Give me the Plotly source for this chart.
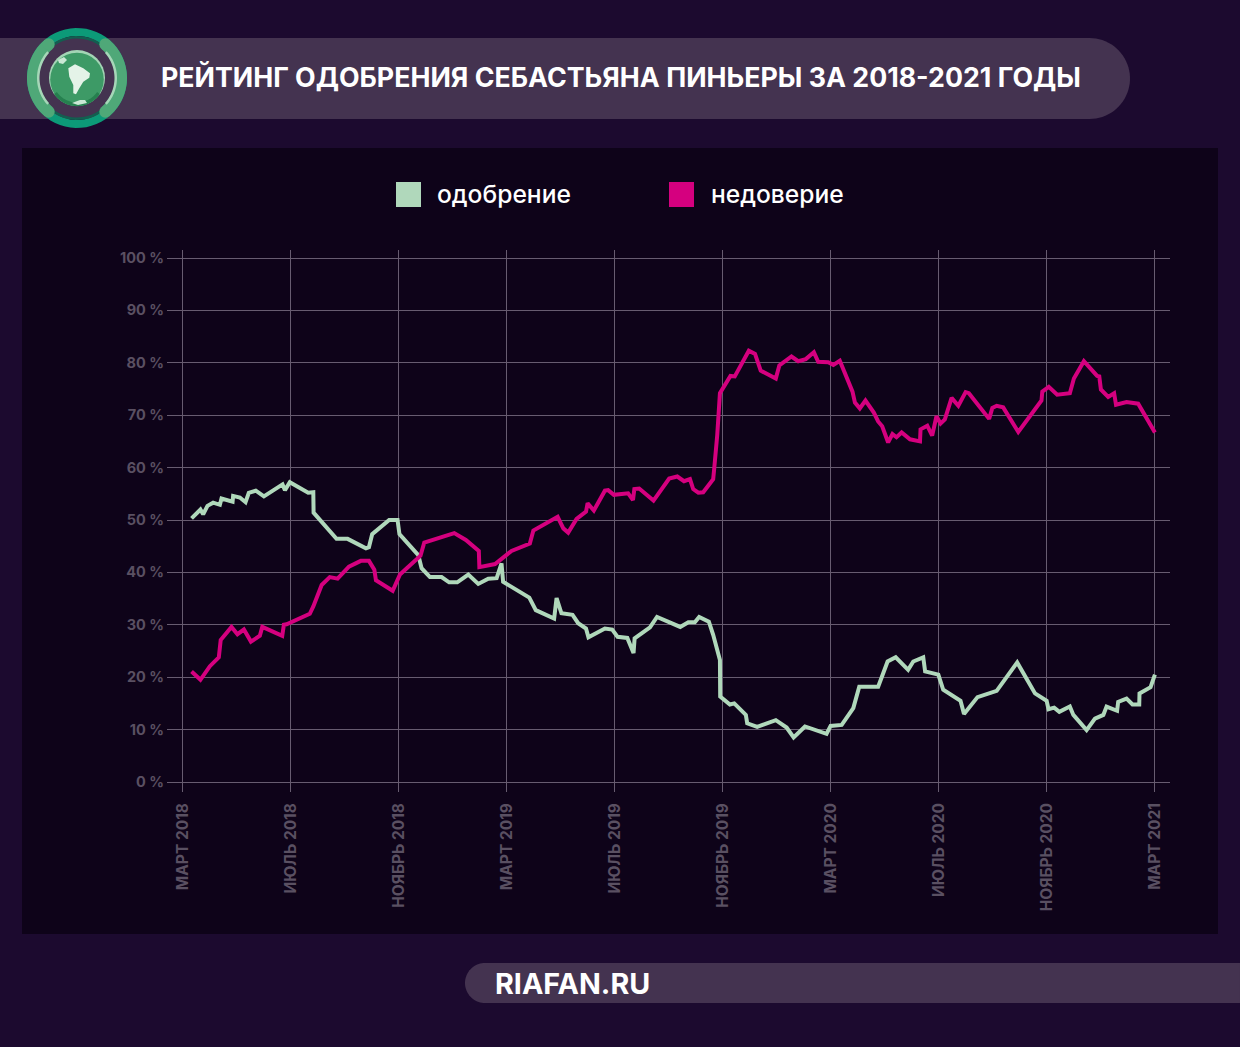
import numpy as np
import plotly.graph_objects as go

# x values are months counted from March 2018
approve_m = [0.32,0.65,0.75,0.91,1.12,1.37,1.43,1.84,1.86,2.11,2.32,2.44,2.70,3.0,3.69,3.78,3.96,4.64,4.83,4.84,5.69,6.1,6.78,6.89,7.01,7.64,7.95,8.02,8.72,8.84,9.15,9.58,9.86,10.16,10.57,10.94,11.31,11.62,11.8,11.86,12.83,13.07,13.75,13.84,14.02,14.43,14.64,14.93,15.02,15.63,15.9,16.1,16.46,16.69,16.73,17.3,17.56,18.42,18.72,18.96,19.12,19.48,19.64,19.89,19.9,20.26,20.42,20.85,20.9,21.27,21.96,22.36,22.62,23.04,23.84,23.99,24.4,24.83,25.05,25.75,26.1,26.4,26.86,27.05,27.42,27.49,27.98,28.16,28.8,28.93,29.43,30.14,30.9,31.56,31.99,32.06,32.27,32.46,32.85,32.98,33.47,33.78,34.09,34.21,34.6,34.64,34.95,35.17,35.42,35.43,35.84,36.0]
approve_v = [50.3,52.0,51.1,52.7,53.3,52.9,54.1,53.5,54.6,54.3,53.4,55.2,55.6,54.5,56.8,55.7,57.2,55.2,55.3,51.4,46.4,46.4,44.6,44.8,47.3,50.0,50.0,47.3,43.3,40.8,39.1,39.1,38.1,38.1,39.6,37.8,38.8,38.9,41.7,38.2,35.2,32.8,31.2,35.1,32.2,31.9,30.3,29.3,27.6,29.3,29.1,27.7,27.5,24.6,27.4,29.5,31.5,29.6,30.5,30.5,31.5,30.6,28.1,23.3,16.3,14.8,15.0,12.8,11.2,10.5,11.8,10.4,8.5,10.6,9.2,10.7,10.9,14.1,18.2,18.2,23.0,23.8,21.4,23.0,23.8,21.1,20.5,17.6,15.5,13.0,16.2,17.4,22.8,16.9,15.5,13.9,14.2,13.4,14.4,12.8,9.9,12.1,12.8,14.4,13.6,15.3,15.9,14.8,14.8,16.9,18.1,20.5]
distrust_m = [0.32,0.65,1.0,1.33,1.40,1.80,2.02,2.26,2.52,2.85,2.94,3.68,3.74,3.84,4.70,4.83,5.14,5.44,5.73,6.15,6.59,6.89,7.09,7.15,7.77,8.04,8.8,8.94,10.05,10.48,10.96,10.98,11.56,12.17,12.85,12.98,13.88,14.09,14.27,14.58,14.93,14.99,15.22,15.63,15.75,15.96,16.49,16.67,16.72,16.9,17.43,18.01,18.31,18.56,18.78,18.9,19.09,19.27,19.64,19.68,19.79,19.89,20.28,20.44,20.96,21.19,21.4,21.96,22.09,22.54,22.79,23.07,23.37,23.53,23.9,24.09,24.33,24.8,24.89,25.07,25.28,25.59,25.75,25.9,26.12,26.28,26.43,26.62,26.93,27.3,27.32,27.57,27.75,27.91,28.06,28.22,28.47,28.72,28.99,29.11,29.86,29.98,30.14,30.38,30.94,31.8,31.83,32.07,32.38,32.85,33.0,33.37,33.86,33.94,34.0,34.27,34.49,34.56,34.95,35.38,36.0]
distrust_v = [21.1,19.5,22.1,23.8,27.1,29.6,28.2,29.1,26.8,27.9,29.6,27.9,30.0,30.1,32.1,33.5,37.6,39.1,38.8,41.1,42.2,42.2,40.5,38.5,36.5,39.6,43.2,45.7,47.5,46.2,44.1,41.0,41.6,44.1,45.5,48.0,50.6,48.4,47.6,50.2,51.6,53.2,51.8,55.6,55.7,54.8,55.1,53.8,55.9,56.0,53.7,57.9,58.3,57.4,57.8,55.9,55.2,55.3,57.8,59.9,66.2,74.2,77.5,77.4,82.3,81.7,78.5,77.0,79.5,81.2,80.3,80.7,82.0,80.2,80.1,79.6,80.4,74.5,72.4,71.3,72.8,70.5,68.8,67.9,64.8,66.4,65.8,66.7,65.4,65.0,67.3,68.0,66.1,69.8,68.4,69.2,73.3,71.8,74.4,74.2,69.3,71.4,71.8,71.5,66.8,72.8,74.5,75.4,73.9,74.2,77.0,80.3,77.5,77.4,74.9,73.5,74.2,72.0,72.5,72.2,66.7]

tick_months = [0,4,8,12,16,20,24,28,32,36]
tick_labels = ["МАРТ 2018","ИЮЛЬ 2018","НОЯБРЬ 2018","МАРТ 2019","ИЮЛЬ 2019","НОЯБРЬ 2019","МАРТ 2020","ИЮЛЬ 2020","НОЯБРЬ 2020","МАРТ 2021"]
y_ticks = [0,10,20,30,40,50,60,70,80,90,100]
y_labels = [f"{v} %" for v in y_ticks]

title = "РЕЙТИНГ ОДОБРЕНИЯ СЕБАСТЬЯНА ПИНЬЕРЫ ЗА 2018-2021 ГОДЫ"
series_names = ["одобрение", "недоверие"]
GREEN, MAGENTA = "#b0d8bb", "#d5007f"
BG, BAND, PANEL = "#1c0a2f", "#443350", "#0e0319"
GRID, TICK = "#675c70", "#5a5062"
FONT = "Inter"

W, H = 1240, 1047
L, R, T, B = 167, 1170, 250, 792
X0 = 182.9
px = lambda x: (x - L) / (R - L)
py = lambda y: (B - y) / (B - T)

def P(points, close=True):
    s = "M" + " L".join(f"{px(x):.5f},{py(y):.5f}" for x, y in points)
    return s + (" Z" if close else "")

def rounded_band(x0, x1, y0, y1, side):
    r = (y1 - y0) / 2
    a = np.linspace(-np.pi / 2, np.pi / 2, 40)
    cy = (y0 + y1) / 2
    if side == "right":
        arc = [(x1 - r + r * np.cos(t), cy + r * np.sin(t)) for t in a]
        return P([(x0, y0)] + arc + [(x0, y1)])
    arc = [(x0 + r - r * np.cos(t), cy - r * np.sin(t)) for t in a]
    return P([(x1, y1)] + arc + [(x1, y0)])

def ring(cx, cy, r0, r1, a0, a1):
    a = np.radians(np.linspace(a0, a1, 60))
    outer = [(cx + r1 * np.cos(t), cy + r1 * np.sin(t)) for t in a]
    inner = [(cx + r0 * np.cos(t), cy + r0 * np.sin(t)) for t in a[::-1]]
    return P(outer + inner)

def path(d, color, layer="below"):
    return dict(type="path", xref="paper", yref="paper", path=d, fillcolor=color,
                line=dict(width=0), layer=layer)

def circle(cx, cy, r, color, layer="below"):
    return dict(type="circle", xref="paper", yref="paper", x0=px(cx - r), x1=px(cx + r),
                y0=py(cy + r), y1=py(cy - r), fillcolor=color, line=dict(width=0), layer=layer)

def rect(x0, y0, x1, y1, color, layer="below"):
    return dict(type="rect", xref="paper", yref="paper", x0=px(x0), x1=px(x1),
                y0=py(y1), y1=py(y0), fillcolor=color, line=dict(width=0), layer=layer)

CX, CY = 77, 78
ARC_G = "#4fa878"
caps = []
for ang in (50, -50, 130, 230):
    t = np.radians(ang)
    caps.append(circle(CX + 44 * np.cos(t), CY + 44 * np.sin(t), 6, ARC_G))

shapes = [
    rect(22, 148, 1218, 934, PANEL),
    path(rounded_band(0, 1130, 38, 119, "right"), BAND),
    path(rounded_band(465, 1240, 963, 1003, "left"), BAND),
    path(ring(CX, CY, 42, 50, 0, 360), "#0c9a78"),
    path(ring(CX, CY, 39.5, 42, 0, 360), "#125f50"),
    path(ring(CX, CY, 38, 50, 130, 230), ARC_G),
    path(ring(CX, CY, 38, 50, -50, 50), ARC_G),
    *caps,
    path(ring(CX, CY, 37.5, 40, 138, 222), "#a6d7b8"),
    path(ring(CX, CY, 37.5, 40, -42, 42), "#a6d7b8"),
    circle(CX, CY, 28, "#a3d5b5"),
    circle(CX, CY + 1.5, 26.8, "#3d9a66"),
    path(ring(CX, CY, 24.5, 28, 35, 145), "#26804f"),
    path(P([(68.3,68.3),(75,64.3),(83.3,68.3),(90,73.3),(89.3,77.7),(83.3,81.7),(79.3,88.3),(76,94.3),(73.3,93.3),(73.3,85),(69.3,76.7)]), "#e4f3e8"),
    path(P([(58, 60), (64, 57), (67, 60), (63, 64), (59, 63)]), "#cbe8d5"),
    path(P([(72, 103), (80, 100), (85, 100), (87, 103), (78, 105)]), "#cbe8d5"),
    rect(396, 182, 421, 207, GREEN),
    rect(669, 182, 694, 207, MAGENTA),
]

annotations = [
    dict(text=f"<b>{title}</b>", x=px(159), y=py(77), xref="paper", yref="paper", xanchor="left",
         yanchor="middle", showarrow=False, font=dict(family=FONT, size=26.75, color="#ffffff")),
    dict(text="<b>RIAFAN.RU</b>", x=px(493), y=py(983), xref="paper", yref="paper", xanchor="left",
         yanchor="middle", showarrow=False, font=dict(family=FONT, size=28.7, color="#ffffff")),
    dict(text=series_names[0], x=px(435), y=py(194), xref="paper", yref="paper", xanchor="left",
         yanchor="middle", showarrow=False, font=dict(family=FONT, size=24.6, color="#ffffff", weight=500)),
    dict(text=series_names[1], x=px(709), y=py(194), xref="paper", yref="paper", xanchor="left",
         yanchor="middle", showarrow=False, font=dict(family=FONT, size=24.6, color="#ffffff", weight=500)),
]

fig = go.Figure()
fig.add_trace(go.Scatter(x=approve_m, y=approve_v, mode="lines", name=series_names[0],
                         line=dict(color=GREEN, width=4, simplify=False)))
fig.add_trace(go.Scatter(x=distrust_m, y=distrust_v, mode="lines", name=series_names[1],
                         line=dict(color=MAGENTA, width=4, simplify=False)))

fig.update_layout(
    width=W, height=H, autosize=False, showlegend=False,
    margin=dict(l=L, r=W - R, t=T, b=H - B, pad=0),
    paper_bgcolor=BG, plot_bgcolor="rgba(0,0,0,0)",
    shapes=shapes, annotations=annotations,
    font=dict(family=FONT),
    xaxis=dict(range=[(L - X0) / 27, (R - X0) / 27], tickmode="array", tickvals=tick_months,
               ticktext=tick_labels, tickangle=-90, showgrid=True, gridcolor=GRID, gridwidth=1,
               zeroline=False, showline=False, ticks="", ticklabelstandoff=7,
               tickfont=dict(family=FONT, size=15.5, color=TICK, weight=700)),
    yaxis=dict(range=[(782 - B) / 5.24, (782 - T) / 5.24], tickmode="array", tickvals=y_ticks,
               ticktext=y_labels, showgrid=True, gridcolor=GRID, gridwidth=1,
               zeroline=False, showline=False, ticks="", ticklabelstandoff=2,
               tickfont=dict(family=FONT, size=14.5, color=TICK, weight=700)),
)

fig.write_html("out.html", config={"displayModeBar": False},
               post_script="document.body.style.margin='0';document.body.style.background='%s';" % BG)
